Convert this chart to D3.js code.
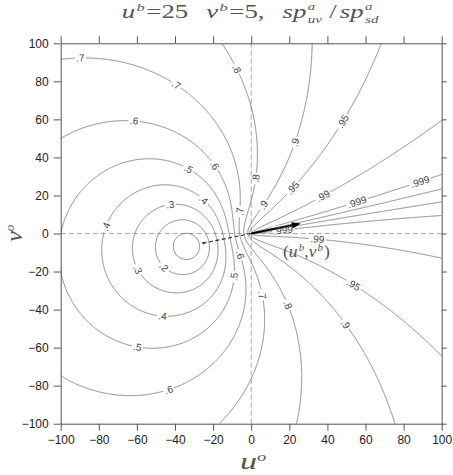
<!DOCTYPE html>
<html>
<head>
<meta charset="utf-8">
<script src="https://cdn.jsdelivr.net/npm/d3@7"></script>
<style>
  body { margin: 0; background: #fff; }
  svg { display: block; }
</style>
</head>
<body>
<script>
  // background wind and the obs/background error variance ratio
  const ub = 25;
  const vb = 5;
  const errRatio = 4 / 3;

  const levels = [0.1, 0.2, 0.3, 0.4, 0.5, 0.6, 0.7, 0.8, 0.9, 0.95, 0.99, 0.999, 0.9999];
  const xTicks = [-100, -80, -60, -40, -20, 0, 20, 40, 60, 80, 100];
  const yTicks = [-100, -80, -60, -40, -20, 0, 20, 40, 60, 80, 100];

  // where the contour labels sit: [level, u, v]
  const labelSpots = [
    [0.7, -89.9, 94.7], [0.7, -38.6, 79.3], [0.7, -5.9, 11.5], [0.7, 5.5, -32.3],
    [0.6, -61.5, 60.6], [0.6, -19.9, 35.1], [0.6, -6.4, -11.3], [0.6, -42.6, -84.4],
    [0.5, -32.9, 34.3], [0.5, -8.5, -22.7], [0.5, -60.1, -62.1],
    [0.4, -25.1, 17.6], [0.4, -77.6, 3.9], [0.4, -46.5, -45.1],
    [0.3, -42.6, 15.5], [0.3, -61.4, -20],
    [0.2, -47, -18.8],
    [0.8, -6.8, 86.9], [0.8, 2.2, 29], [0.8, 19, -37.6],
    [0.9, 23, 47.9], [0.9, 6.4, 15], [0.9, 49.2, -48.1],
    [0.95, 48.9, 58.5], [0.95, 21.3, 24.6], [0.95, 53.6, -27.1],
    [0.99, 37.9, 19.3], [0.99, 34.7, -3],
    [0.999, 55.4, 16.7], [0.999, 88.6, 27.2], [0.999, 16.9, 1.3]
  ];

  const width = 453;
  const height = 475;
  const box = { left: 60.7, right: 441.7, top: 43.3, bottom: 423.7 };

  const x = d3.scaleLinear().domain([-100, 100]).range([box.left, box.right]);
  const y = d3.scaleLinear().domain([-100, 100]).range([box.bottom, box.top]);

  const svg = d3.select('body').append('svg')
    .attr('width', width)
    .attr('height', height);
  const defs = svg.append('defs');

  defs.append('clipPath').attr('id', 'plotclip')
    .append('rect')
    .attr('x', box.left).attr('y', box.top)
    .attr('width', box.right - box.left).attr('height', box.bottom - box.top);

  // ratio of analysed speed (u,v analysis) to speed/direction analysis
  const ratio = (u, v) => {
    const au = errRatio * ub + u;
    const av = errRatio * vb + v;
    return Math.hypot(au, av) / (errRatio * Math.hypot(ub, vb) + Math.hypot(u, v));
  };

  const lo = -101, hi = 101, step = 0.25;
  const n = Math.round((hi - lo) / step) + 1;
  const grid = new Float64Array(n * n);
  for (let j = 0; j < n; j++) {
    for (let i = 0; i < n; i++) {
      grid[j * n + i] = ratio(lo + i * step, lo + j * step);
    }
  }
  const gridToData = (c) => lo + (c - 0.5) * step;

  const contours = d3.contours().size([n, n]).thresholds(levels)(grid);

  const proj = d3.geoTransform({
    point(cx, cy) { this.stream.point(x(gridToData(cx)), y(gridToData(cy))); }
  });
  const path = d3.geoPath(proj);

  const plotG = svg.append('g').attr('clip-path', 'url(#plotclip)');

  // dashed zero lines
  plotG.append('line')
    .attr('x1', x(-100)).attr('x2', x(100)).attr('y1', y(0)).attr('y2', y(0))
    .attr('stroke', '#a8a8a8').attr('stroke-width', 1).attr('stroke-dasharray', '5,3');
  plotG.append('line')
    .attr('x1', x(0)).attr('x2', x(0)).attr('y1', y(-100)).attr('y2', y(100))
    .attr('stroke', '#a8a8a8').attr('stroke-width', 1).attr('stroke-dasharray', '5,3');

  const fmt = (d) => String(d).replace(/^0/, '');
  const labelG = svg.append('g');

  contours.forEach((c, k) => {
    const mask = defs.append('mask').attr('id', 'm' + k)
      .attr('maskUnits', 'userSpaceOnUse')
      .attr('x', 0).attr('y', 0).attr('width', width).attr('height', height);
    mask.append('rect').attr('width', width).attr('height', height).attr('fill', '#fff');

    const rings = [];
    c.coordinates.forEach((poly) => poly.forEach((ring) => {
      rings.push(ring.map(([cx, cy]) => [x(gridToData(cx)), y(gridToData(cy))]));
    }));

    labelSpots.filter((s) => s[0] === c.value).forEach(([lev, u, v]) => {
      const px = x(u), py = y(v);
      let best = null, bd = Infinity;
      rings.forEach((r) => r.forEach((p, i) => {
        const d = (p[0] - px) ** 2 + (p[1] - py) ** 2;
        if (d < bd) { bd = d; best = [r, i]; }
      }));
      if (!best) return;
      const [r, i] = best;
      const m = r.length - 1;
      const a = r[(i - 8 + m * 4) % m];
      const b = r[(i + 8) % m];
      let ang = Math.atan2(b[1] - a[1], b[0] - a[0]) * 180 / Math.PI;
      if (ang > 90) ang -= 180;
      if (ang < -90) ang += 180;
      const p = r[i];
      const t = labelG.append('text')
        .attr('transform', `translate(${p[0]},${p[1]}) rotate(${ang})`)
        .attr('text-anchor', 'middle')
        .attr('dy', '0.35em')
        .attr('font-family', 'Liberation Sans, Arial, sans-serif')
        .attr('font-size', 10)
        .attr('fill', '#444')
        .text(fmt(lev));
      const w = t.node().getComputedTextLength() + 3;
      mask.append('rect')
        .attr('transform', `translate(${p[0]},${p[1]}) rotate(${ang})`)
        .attr('x', -w / 2).attr('y', -5).attr('width', w).attr('height', 10)
        .attr('fill', '#000');
    });

    plotG.append('path')
      .attr('d', path(c))
      .attr('fill', 'none')
      .attr('stroke', '#777')
      .attr('stroke-width', 0.9)
      .attr('mask', `url(#m${k})`);
  });

  // dashed arrow to -b and the background arrow
  const o = [x(0), y(0)];
  plotG.append('line')
    .attr('x1', o[0]).attr('y1', o[1]).attr('x2', x(-ub)).attr('y2', y(-vb))
    .attr('stroke', '#333').attr('stroke-width', 1.1).attr('stroke-dasharray', '4,2.5');
  plotG.append('circle')
    .attr('cx', x(-ub)).attr('cy', y(-vb)).attr('r', 1.3).attr('fill', '#333');

  const tip = [x(ub) + 2, y(vb) - 0.4];
  const dx = tip[0] - o[0], dy = tip[1] - o[1];
  const len = Math.hypot(dx, dy);
  const ux = dx / len, uy = dy / len;
  const headL = 9, headW = 3.2;
  const base = [tip[0] - ux * headL, tip[1] - uy * headL];
  plotG.append('line')
    .attr('x1', o[0]).attr('y1', o[1]).attr('x2', base[0] + ux * 2).attr('y2', base[1] + uy * 2)
    .attr('stroke', '#000').attr('stroke-width', 1.8);
  plotG.append('path')
    .attr('d', `M${tip[0]},${tip[1]}L${base[0] - uy * headW},${base[1] + ux * headW}` +
      `L${base[0] + uy * headW},${base[1] - ux * headW}Z`)
    .attr('fill', '#000');

  // axes
  const tickFont = (g) => g.selectAll('text')
    .attr('font-family', 'Liberation Sans, Arial, sans-serif')
    .attr('font-size', 12)
    .attr('fill', '#222');
  const axisStyle = (g) => {
    g.select('.domain').attr('stroke', '#555');
    g.selectAll('.tick line').attr('stroke', '#555');
  };

  svg.append('g')
    .attr('transform', `translate(0,${box.bottom})`)
    .call(d3.axisBottom(x).tickValues(xTicks).tickSize(7).tickSizeOuter(0).tickPadding(5))
    .call(axisStyle).call(tickFont);
  svg.append('g')
    .attr('transform', `translate(${box.left},0)`)
    .call(d3.axisLeft(y).tickValues(yTicks).tickSize(7).tickSizeOuter(0).tickPadding(5))
    .call(axisStyle).call(tickFont);
  svg.append('g')
    .attr('transform', `translate(0,${box.top})`)
    .call(d3.axisTop(x).tickValues(xTicks).tickSize(7).tickSizeOuter(0).tickFormat(''))
    .call(axisStyle);
  svg.append('g')
    .attr('transform', `translate(${box.right},0)`)
    .call(d3.axisRight(y).tickValues(yTicks).tickSize(5).tickSizeOuter(0).tickFormat(''))
    .call(axisStyle);

  // math-ish text pieces: [text, italic, size, dx, dy]
  const mathText = (g, pieces, size) => {
    const t = g.append('text')
      .attr('font-family', 'Liberation Serif, Times New Roman, serif')
      .attr('font-size', size);
    pieces.forEach(([s, it, sz, ddx, ddy]) => {
      t.append('tspan')
        .attr('font-style', it ? 'italic' : 'normal')
        .attr('font-size', sz || size)
        .attr('dx', ddx || 0)
        .attr('dy', ddy || 0)
        .text(s);
    });
    return t;
  };
  const fitX = (g, t, x0, x1, baseY) => {
    const bb = t.node().getBBox();
    const sx = (x1 - x0) / bb.width;
    g.attr('transform', `translate(${x0 - bb.x * sx},${baseY}) scale(${sx},1)`);
  };

  const titleG = svg.append('g').attr('fill', '#555');
  const title = mathText(titleG, [
    ['u', true], ['b', true, 11, 1, -7], ['=25', false, 18, 1, 7],
    ['v', true, 18, 12], ['b', true, 11, 1, -7], ['=5,', false, 18, 1, 7],
    ['sp', true, 18, 12], ['a', true, 10, 1, -8], ['uv', true, 10, -5, 13],
    ['/', false, 18, 5, -5], ['sp', true, 18, 2], ['a', true, 10, 1, -8], ['sd', true, 10, -5, 13]
  ], 18);
  fitX(titleG, title, 121.7, 380, 18);

  const bG = svg.append('g').attr('fill', '#555');
  const bLabel = mathText(bG, [
    ['(', false], ['u', true], ['b', true, 10, 1, -6], [',', false, 16, 0, 6],
    ['v', true], ['b', true, 10, 1, -6], [')', false, 16, 1, 6]
  ], 16);
  fitX(bG, bLabel, 283, 330, 257);

  const xlG = svg.append('g').attr('fill', '#555');
  const xl = mathText(xlG, [['u', true], ['o', true, 13, 0, -8]], 24);
  fitX(xlG, xl, 240, 267, 469);

  const ylG = svg.append('g').attr('fill', '#555');
  const yl = mathText(ylG, [['v', true], ['o', true, 13, 0, -8]], 24);
  const ybb = yl.node().getBBox();
  ylG.attr('transform', `translate(22,${233 + ybb.width / 2}) rotate(-90)`);
</script>
</body>
</html>
